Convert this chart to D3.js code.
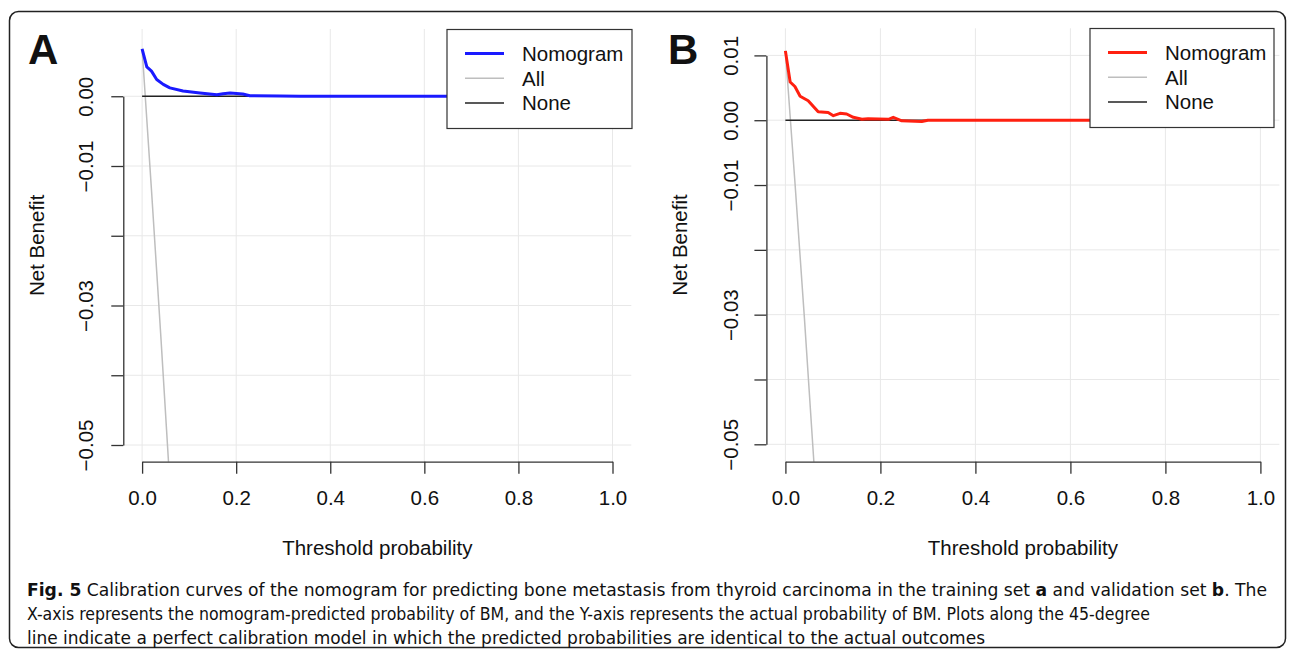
<!DOCTYPE html>
<html>
<head>
<meta charset="utf-8">
<script src="https://cdn.jsdelivr.net/npm/d3@7"></script>
<style>
body { margin: 0; background: #fff; }
text { font-family: "Liberation Sans", Arial, sans-serif; fill: #111; }
</style>
</head>
<body>
<div id="chart"></div>
<script>
// decision curves, threshold probability vs net benefit
var nomogramA = [[0, 0.0068], [0.01, 0.0042], [0.02, 0.0036], [0.031, 0.0024], [0.045, 0.0017],
  [0.059, 0.0012], [0.087, 0.00075], [0.123, 0.00047], [0.159, 0.00022], [0.172, 0.00037],
  [0.187, 0.00047], [0.214, 0.00032], [0.229, 0.00008], [0.293, 0.00002], [0.336, 0], [1.0, 0]];
var allA = [[0, 0.0068], [0.02, -0.0135], [0.04, -0.0346], [0.06, -0.0567]];

var nomogramB = [[0, 0.0107], [0.01, 0.0059], [0.02, 0.0052], [0.031, 0.0037], [0.048, 0.0030],
  [0.069, 0.0013], [0.09, 0.0012], [0.101, 0.0007], [0.115, 0.00106], [0.129, 0.00096],
  [0.143, 0.00045], [0.161, 0.00014], [0.174, 0.00023], [0.217, 0.00014], [0.227, 0.00045],
  [0.245, -0.0001], [0.287, -0.0002], [0.30, 0], [1.0, 0]];
var allB = [[0, 0.0107], [0.02, -0.0095], [0.04, -0.0305], [0.06, -0.0528]];

var noneLine = [[0, 0], [1, 0]];

var xTicks = [0, 0.2, 0.4, 0.6, 0.8, 1.0];
var yTicksA = [-0.05, -0.04, -0.03, -0.02, -0.01, 0];
var yLabelsA = [-0.05, -0.03, -0.01, 0];
var yTicksB = [-0.05, -0.04, -0.03, -0.02, -0.01, 0, 0.01];
var yLabelsB = [-0.05, -0.03, -0.01, 0, 0.01];

var legendNames = ["Nomogram", "All", "None"];

var captionLines = [
  [["Fig. 5", true], [" Calibration curves of the nomogram for predicting bone metastasis from thyroid carcinoma in the training set ", false], ["a", true], [" and validation set ", false], ["b", true], [". The", false]],
  [["X-axis represents the nomogram-predicted probability of BM, and the Y-axis represents the actual probability of BM. Plots along the 45-degree", false]],
  [["line indicate a perfect calibration model in which the predicted probabilities are identical to the actual outcomes", false]]
];
var captionWidths = [1240, 1123, 958];

var width = 1295, height = 657;

var svg = d3.select("#chart").append("svg")
  .attr("width", width)
  .attr("height", height)
  .attr("viewBox", [0, 0, width, height]);

// outer frame
svg.append("rect")
  .attr("x", 9.5).attr("y", 11.5)
  .attr("width", 1276).attr("height", 636)
  .attr("rx", 9)
  .attr("fill", "none")
  .attr("stroke", "#222")
  .attr("stroke-width", 1.5);

var panels = [
  {id: "A", nomogram: nomogramA, all: allA, color: "#1a1aff",
   x0: 142.1, x1: 612.5, yLo: -0.05, yHi: 0, yLoPx: 445, yHiPx: 96.25, top: 29,
   yTicks: yTicksA, yLabels: yLabelsA, labelX: 30, letterX: 28, titleX: 44,
   legend: {x: 447, y: 29.5, w: 185, h: 99}},
  {id: "B", nomogram: nomogramB, all: allB, color: "#ff2010",
   x0: 785.4, x1: 1260.4, yLo: -0.05, yHi: 0.01, yLoPx: 444.3, yHiPx: 55.4, top: 28.3,
   yTicks: yTicksB, yLabels: yLabelsB, labelX: 28, letterX: 668, titleX: 687,
   legend: {x: 1090, y: 28.5, w: 184, h: 99}}
];

var bottom = 461.7;
var fs = 20.5;

panels.forEach(function(p) {
  var x = d3.scaleLinear().domain([0, 1]).range([p.x0, p.x1]);
  var y = d3.scaleLinear().domain([p.yLo, p.yHi]).range([p.yLoPx, p.yHiPx]);
  var left = x(-0.04), right = x(1.04);

  var g = svg.append("g");

  g.append("clipPath").attr("id", "clip" + p.id)
    .append("rect")
    .attr("x", left).attr("y", p.top)
    .attr("width", right - left).attr("height", bottom - p.top);

  // grid
  g.append("g").selectAll("line")
    .data(xTicks)
    .join("line")
    .attr("x1", d => x(d)).attr("x2", d => x(d))
    .attr("y1", p.top).attr("y2", bottom)
    .attr("stroke", "#e8e8e8").attr("stroke-width", 1);
  g.append("g").selectAll("line")
    .data(p.yTicks)
    .join("line")
    .attr("x1", left).attr("x2", right)
    .attr("y1", d => y(d)).attr("y2", d => y(d))
    .attr("stroke", "#e8e8e8").attr("stroke-width", 1);

  var line = d3.line().x(d => x(d[0])).y(d => y(d[1]));
  var plot = g.append("g").attr("clip-path", "url(#clip" + p.id + ")");

  plot.append("path").datum(p.all)
    .attr("d", line).attr("fill", "none")
    .attr("stroke", "#bebebe").attr("stroke-width", 1.5);
  plot.append("path").datum(noneLine)
    .attr("d", line).attr("fill", "none")
    .attr("stroke", "#222").attr("stroke-width", 1.5);
  plot.append("path").datum(p.nomogram)
    .attr("d", line).attr("fill", "none")
    .attr("stroke", p.color).attr("stroke-width", 3)
    .attr("stroke-linejoin", "round");

  // axes
  var fmtY = d3.format(".2f");
  var yAxis = g.append("g")
    .attr("transform", `translate(${left},0)`)
    .call(d3.axisLeft(y).tickValues(p.yTicks).tickSize(12).tickSizeOuter(0)
      .tickFormat(d => p.yLabels.some(v => Math.abs(v - d) < 1e-9) ? fmtY(d) : ""));
  yAxis.selectAll("text")
    .attr("x", 0).attr("dy", 0)
    .attr("transform", `translate(${-p.labelX},0) rotate(-90)`)
    .attr("text-anchor", "middle")
    .style("font-size", fs + "px")
    .style("font-family", "Liberation Sans, Arial, sans-serif")
    .attr("fill", "#111");

  var xAxis = g.append("g")
    .attr("transform", `translate(0,${bottom})`)
    .call(d3.axisBottom(x).tickValues(xTicks).tickSize(12).tickSizeOuter(0).tickFormat(d3.format(".1f")));
  xAxis.selectAll("text")
    .attr("y", 43).attr("dy", 0)
    .style("font-size", fs + "px")
    .style("font-family", "Liberation Sans, Arial, sans-serif")
    .attr("fill", "#111");

  [yAxis, xAxis].forEach(a => {
    a.selectAll("path, line").attr("stroke", "#333").attr("stroke-width", 1.3);
  });

  // axis titles
  g.append("text")
    .attr("x", (p.x0 + p.x1) / 2).attr("y", 555)
    .attr("text-anchor", "middle")
    .style("font-size", fs + "px")
    .text("Threshold probability");
  g.append("text")
    .attr("transform", `translate(${p.titleX},${(p.top + bottom) / 2}) rotate(-90)`)
    .attr("text-anchor", "middle")
    .style("font-size", fs + "px")
    .text("Net Benefit");

  // panel letter
  g.append("text")
    .attr("x", p.letterX).attr("y", 64)
    .style("font-size", "42px").style("font-weight", "bold")
    .attr("fill", "#000")
    .text(p.id);

  // legend
  var L = p.legend;
  var lg = g.append("g").attr("transform", `translate(${L.x},${L.y})`);
  lg.append("rect")
    .attr("width", L.w).attr("height", L.h)
    .attr("fill", "#fff").attr("stroke", "#333").attr("stroke-width", 1.2);
  var legendColors = [p.color, "#bebebe", "#222"];
  var legendWidths = [3, 1.5, 1.5];
  var items = lg.selectAll("g.item")
    .data(legendNames)
    .join("g")
    .attr("class", "item")
    .attr("transform", (d, i) => `translate(0,${24 + i * 24.7})`);
  items.append("line")
    .attr("x1", 18).attr("x2", 57)
    .attr("stroke", (d, i) => legendColors[i])
    .attr("stroke-width", (d, i) => legendWidths[i]);
  items.append("text")
    .attr("x", 75).attr("y", 7.5)
    .style("font-size", fs + "px")
    .text(d => d);
});

// caption
var cap = svg.append("g");
captionLines.forEach(function(segs, i) {
  var t = cap.append("text")
    .attr("x", 27).attr("y", 596 + i * 24)
    .attr("textLength", captionWidths[i])
    .attr("lengthAdjust", "spacingAndGlyphs")
    .style("font-family", "'Liberation Sans Narrow', 'DejaVu Sans Condensed', sans-serif")
    .style("font-size", "18px")
    .attr("fill", "#222");
  segs.forEach(function(s) {
    t.append("tspan")
      .style("font-weight", s[1] ? "bold" : "normal")
      .text(s[0]);
  });
});
</script>
</body>
</html>
